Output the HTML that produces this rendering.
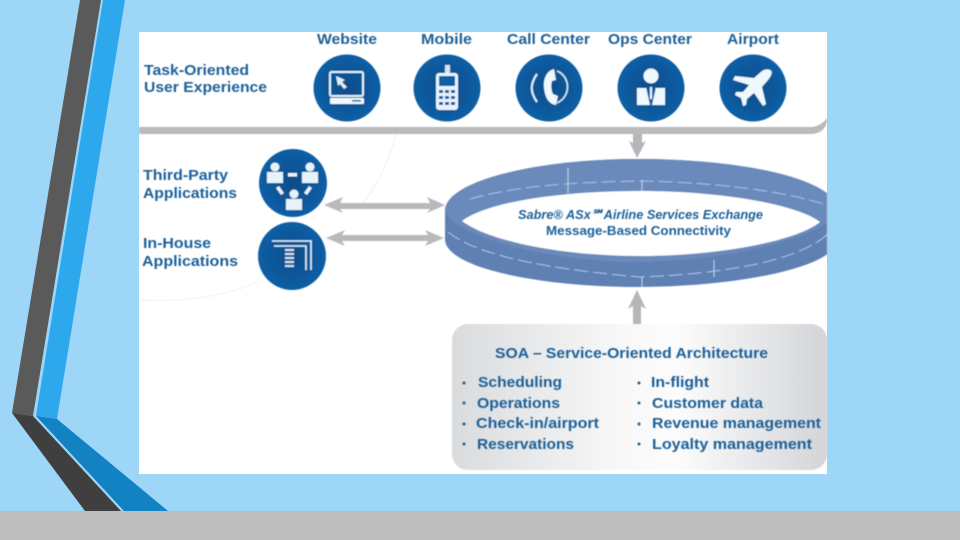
<!DOCTYPE html>
<html>
<head>
<meta charset="utf-8">
<style>
html,body{margin:0;padding:0;background:#9dd6f7;width:960px;height:540px;overflow:hidden}
svg{display:block}
text{font-family:"Liberation Sans",sans-serif;font-weight:700;fill:#1f6098}
.t{font-size:15px}
</style>
</head>
<body>
<svg width="960" height="540" viewBox="0 0 960 540" xmlns="http://www.w3.org/2000/svg">
<defs>
<radialGradient id="c" cx="50%" cy="50%" r="50%"><stop offset="0" stop-color="#0a4c88"/><stop offset="1" stop-color="#0b5fa6"/></radialGradient>
<linearGradient id="soa" x1="0" x2="1" y1="0" y2="0"><stop offset="0" stop-color="#d9dbdd"/><stop offset=".45" stop-color="#f8f8f8"/><stop offset=".6" stop-color="#fcfcfc"/><stop offset="1" stop-color="#d3d5d8"/></linearGradient>
<clipPath id="panel"><rect x="139" y="32" width="688" height="442"/></clipPath>
<filter id="soft" x="-5%" y="-5%" width="110%" height="110%"><feGaussianBlur stdDeviation="0.5"/></filter>
<filter id="soft2" x="-5%" y="-5%" width="110%" height="110%"><feGaussianBlur stdDeviation="0.4"/></filter>
</defs>
<rect width="960" height="540" fill="#9dd6f7"/>
<polygon points="80,0 101,0 33,416 12,413" fill="#5a5a5a"/>
<polygon points="103,0 125,0 57,419 36,416" fill="#2ea8ec"/>
<polygon points="12,413 33,416 121,511 85,511" fill="#3f3f3f"/>
<polygon points="36,416 57,419 168,511 124,511" fill="#1282c2"/>
<rect y="511" width="960" height="29" fill="#bdbdbd"/>
<rect x="139" y="32" width="688" height="442" fill="#fff"/>

<g filter="url(#soft2)">
<path d="M396,134 C385,175 365,205 355,210 M258,282 C220,298 180,302 139,300" fill="none" stroke="#eceef0" stroke-width="1"/>
<path d="M139,127 H812 Q821,126 827,118 V122 Q824,134 810,134 H139 Z" fill="#b9babc"/>
<path d="M633,134 H642 V143 L646,141 L637,158 L629,141 L633,143 Z" fill="#b5b6b9"/>
<path d="M633,324 V306 L628,309 L637,290 L646,309 L641,306 V324 Z" fill="#b5b6b9"/>
<path d="M324,205 L343,197 L340,203 H430 L427,197 L445,205 L427,213 L430,209 H340 L343,213 Z" fill="#b8b9bb"/>
<path d="M326,238 L345,230 L342,235 H428 L425,230 L444,238 L425,246 L428,241 H342 L345,246 Z" fill="#b8b9bb"/>

<g clip-path="url(#panel)">
<path d="M445,210 C447,180 540,159 637,159 C740,159 835,178 838,210 V240 C835,268 735,287 637,287 C540,287 447,268 445,240 Z" fill="#5f80b3"/>
<path d="M445,210 C447,180 540,159 637,159 C740,159 835,178 838,210 C835,232 735,262 637,262 C540,262 447,232 445,210 Z" fill="#6a8abb"/>
<path d="M448,232 C480,258 560,270 640,277 C720,274 800,262 830,232" fill="none" stroke="#a9c2e6" stroke-width="1" stroke-dasharray="14 5"/>
<path d="M470,199 C520,185 580,182 640,181 C710,182 780,190 827,205" fill="none" stroke="#a9c2e6" stroke-width="1" stroke-dasharray="14 5"/>
<path d="M462,221 C490,200 570,191 640,191 C715,191 795,203 820,222 C795,242 715,256 640,256 C565,256 490,242 462,221 Z" fill="#fff"/>
<path d="M568,168 V193 M642,180 V191 M714,260 V277 M642,277 V287" stroke="#bcd0ec" stroke-width="1"/>
</g>

<rect x="452" y="324" width="375" height="146" rx="16" fill="url(#soa)"/>

<circle cx="347" cy="88" r="33.5" fill="url(#c)"/>
<circle cx="447" cy="88" r="33.5" fill="url(#c)"/>
<circle cx="549" cy="88" r="33.5" fill="url(#c)"/>
<circle cx="651" cy="88" r="33.5" fill="url(#c)"/>
<circle cx="753" cy="88" r="33.5" fill="url(#c)"/>
<circle cx="293" cy="183" r="34" fill="url(#c)"/>
<circle cx="292" cy="256" r="34" fill="url(#c)"/>

<!-- Website -->
<rect x="330" y="72" width="33" height="24" rx="1.5" fill="none" stroke="#dff1fb" stroke-width="2"/>
<polygon points="336,76 345,80 342,82 347,87 344,89 340,84 338,86" fill="#dff1fb"/>
<rect x="330" y="98" width="34" height="6" rx="1" fill="#eef8fd"/>
<rect x="352" y="100" width="9" height="1.6" fill="#0b5fa6"/>
<!-- Mobile -->
<rect x="436" y="73" width="22" height="37" rx="3" fill="#e6f3fb"/>
<rect x="445" y="65" width="5" height="8" fill="#cfe5f3"/>
<rect x="439" y="76" width="16" height="10" fill="#0b5fa6"/>
<g fill="#0b5fa6"><rect x="439" y="90" width="4" height="3"/><rect x="445" y="90" width="4" height="3"/><rect x="451" y="90" width="4" height="3"/><rect x="439" y="96" width="4" height="3"/><rect x="445" y="96" width="4" height="3"/><rect x="451" y="96" width="4" height="3"/><rect x="439" y="102" width="4" height="3"/><rect x="445" y="102" width="4" height="3"/><rect x="451" y="102" width="4" height="3"/></g>
<!-- Call center -->
<path d="M554,69 C546,71 543,80 544,88 C545,98 549,104 556,105 L558,96 L553,94 C551,90 551,84 552,81 L556,80 Z" fill="#eef8fd"/>
<path d="M537,74 C530,84 530,92 537,102" fill="none" stroke="#dff1fb" stroke-width="2"/>
<path d="M557,71 C570,76 572,96 557,103" fill="none" stroke="#cfe8f7" stroke-width="1.6"/>
<!-- Ops -->
<circle cx="651" cy="76" r="7.5" fill="#eef8fd"/>
<path d="M637,88 H665 V105 H637 Z" fill="#eef8fd"/>
<path d="M646,87 H656 L652,105 H650 Z" fill="#0b5fa6"/>
<rect x="650" y="87" width="2" height="12" fill="#eef8fd"/>
<!-- Airplane -->
<path d="M770,70 C773,71 772,75 768,80 L762,87 L766,104 L763,106 L754,93 L747,99 L746,105 L743,106 L741,98 L735,95 L736,92 L743,92 L749,85 L733,80 L735,76 L754,78 L762,71 C765,69 768,69 770,70 Z" fill="#eef8fd"/>
<!-- Third party -->
<g fill="#e6f3fb">
<circle cx="275" cy="167" r="4.5"/><rect x="267" y="172" width="16" height="11"/>
<circle cx="310" cy="167" r="4.5"/><rect x="302" y="172" width="16" height="11"/>
<circle cx="294" cy="194" r="4.5"/><rect x="286" y="199" width="16" height="11"/>
<rect x="288" y="173" width="9" height="3.5"/>
<polygon points="276,188 279,186 284,193 281,195"/>
<polygon points="309,186 312,188 307,195 304,193"/>
</g>
<!-- In-house -->
<path d="M272,241 H311 V270" fill="none" stroke="#dff1fb" stroke-width="1.6"/>
<path d="M274,246 H306 V270" fill="none" stroke="#dff1fb" stroke-width="1.6"/>
<g fill="#cfe5f3"><rect x="285" y="249" width="9" height="2"/><rect x="285" y="253" width="9" height="2"/><rect x="285" y="257" width="9" height="2"/><rect x="285" y="261" width="9" height="2"/><rect x="285" y="265" width="9" height="2"/></g>
</g>

<g filter="url(#soft)">
<text class="t" x="317" y="44" textLength="60" lengthAdjust="spacingAndGlyphs">Website</text>
<text class="t" x="421" y="44" textLength="51" lengthAdjust="spacingAndGlyphs">Mobile</text>
<text class="t" x="507" y="44" textLength="83" lengthAdjust="spacingAndGlyphs">Call Center</text>
<text class="t" x="608" y="44" textLength="84" lengthAdjust="spacingAndGlyphs">Ops Center</text>
<text class="t" x="727" y="44" textLength="52" lengthAdjust="spacingAndGlyphs">Airport</text>
<text class="t" x="144" y="75" textLength="105" lengthAdjust="spacingAndGlyphs">Task-Oriented</text>
<text class="t" x="144" y="92" textLength="123" lengthAdjust="spacingAndGlyphs">User Experience</text>
<text class="t" x="143" y="180" textLength="85" lengthAdjust="spacingAndGlyphs">Third-Party</text>
<text class="t" x="143" y="198" textLength="94" lengthAdjust="spacingAndGlyphs">Applications</text>
<text class="t" x="143" y="248" textLength="68" lengthAdjust="spacingAndGlyphs">In-House</text>
<text class="t" x="142" y="266" textLength="96" lengthAdjust="spacingAndGlyphs">Applications</text>
<text x="518" y="219" font-size="13" font-style="italic" textLength="245" lengthAdjust="spacingAndGlyphs">Sabre® ASx℠Airline Services Exchange</text>
<text x="546" y="235" font-size="13" textLength="185" lengthAdjust="spacingAndGlyphs">Message-Based Connectivity</text>
<text class="t" x="495" y="358" textLength="273" lengthAdjust="spacingAndGlyphs">SOA – Service-Oriented Architecture</text>
<text class="t" x="478" y="387" textLength="84" lengthAdjust="spacingAndGlyphs">Scheduling</text>
<text class="t" x="477" y="408" textLength="83" lengthAdjust="spacingAndGlyphs">Operations</text>
<text class="t" x="476" y="428" textLength="123" lengthAdjust="spacingAndGlyphs">Check-in/airport</text>
<text class="t" x="477" y="449" textLength="97" lengthAdjust="spacingAndGlyphs">Reservations</text>
<text class="t" x="651" y="387" textLength="58" lengthAdjust="spacingAndGlyphs">In-flight</text>
<text class="t" x="652" y="408" textLength="111" lengthAdjust="spacingAndGlyphs">Customer data</text>
<text class="t" x="652" y="428" textLength="169" lengthAdjust="spacingAndGlyphs">Revenue management</text>
<text class="t" x="652" y="449" textLength="160" lengthAdjust="spacingAndGlyphs">Loyalty management</text>
<g fill="#1f6098">
<circle cx="464" cy="383" r="1.5"/><circle cx="464" cy="403" r="1.5"/><circle cx="464" cy="424" r="1.5"/><circle cx="464" cy="444" r="1.5"/>
<circle cx="639" cy="383" r="1.5"/><circle cx="639" cy="403" r="1.5"/><circle cx="639" cy="424" r="1.5"/><circle cx="639" cy="444" r="1.5"/>
</g>
</g>
</svg>
</body>
</html>
